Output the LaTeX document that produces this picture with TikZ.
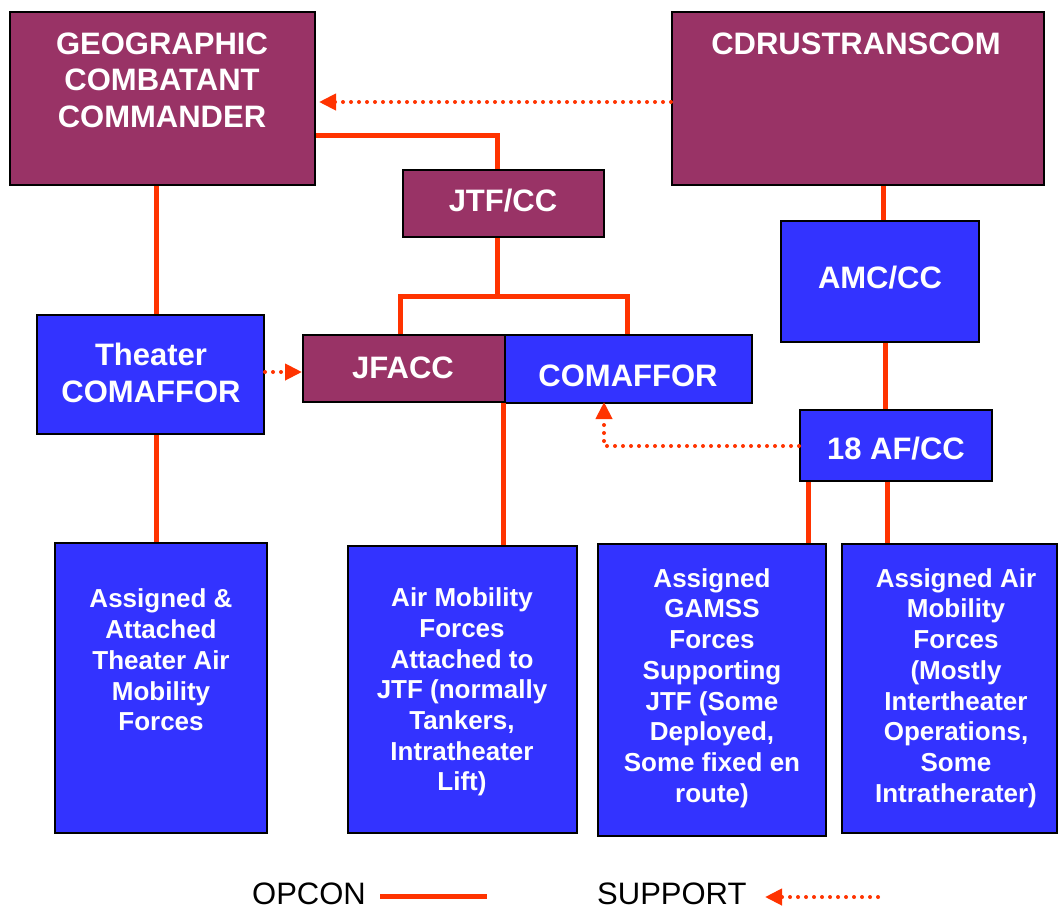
\documentclass[tikz,border=0pt]{standalone}
\usepackage{fontspec}
\setmainfont{Liberation Sans}
\usetikzlibrary{arrows.meta}
\definecolor{cmaroon}{HTML}{993366}
\definecolor{cblue}{HTML}{3333FF}
\definecolor{cred}{HTML}{FF3300}
\tikzset{
  mbox/.style={draw=black, line width=2pt, fill=cmaroon, inner sep=0pt},
  bbox/.style={draw=black, line width=2pt, fill=cblue, inner sep=0pt},
  bigtxt/.style={text=white, font=\fontsize{31}{36.5}\selectfont\bfseries, align=center, inner sep=0pt},
  smalltxt/.style={text=white, font=\fontsize{26}{30.7}\selectfont\bfseries, align=center, inner sep=0pt},
  legtxt/.style={text=black, font=\fontsize{31}{36}\selectfont, inner sep=0pt},
  opcon/.style={draw=cred, line width=5pt},
  support/.style={draw=cred, line width=4pt, line cap=round, dash pattern=on 0pt off 8pt, -{Triangle[length=17pt,width=16pt]}},
}
\begin{document}
\begin{tikzpicture}[x=1pt,y=-1pt]
\useasboundingbox (0,0) rectangle (1059,911);
\fill[white] (0,0) rectangle (1059,911);

% boxes
\node[mbox, minimum width=305pt, minimum height=173pt] (gcc) at (162.5,98.5) {};
\node[mbox, minimum width=372pt, minimum height=173pt] (cdr) at (858,98.5) {};
\node[mbox, minimum width=201pt, minimum height=67pt] (jtf) at (503.5,203.5) {};
\node[bbox, minimum width=227pt, minimum height=119pt] (tcom) at (150.5,374.5) {};
\node[mbox, minimum width=202pt, minimum height=67pt] (jfacc) at (404,368.5) {};
\node[bbox, minimum width=247pt, minimum height=68pt] (com) at (628.5,369) {};
\node[bbox, minimum width=198pt, minimum height=121pt] (amc) at (880,281.5) {};
\node[bbox, minimum width=192pt, minimum height=71pt] (af) at (896,445.5) {};
\node[bbox, minimum width=212pt, minimum height=290pt] (b1) at (161,688) {};
\node[bbox, minimum width=229pt, minimum height=287pt] (b2) at (462.5,689.5) {};
\node[bbox, minimum width=228pt, minimum height=292pt] (b3) at (712,690) {};
\node[bbox, minimum width=215pt, minimum height=289pt] (b4) at (949.5,688.5) {};

% texts
\node[bigtxt] (gcc-t) at (162,80) {GEOGRAPHIC\\COMBATANT\\COMMANDER};
\node[bigtxt] (cdr-t) at (856,44) {CDRUSTRANSCOM};
\node[bigtxt] (jtf-t) at (503,201) {JTF/CC};
\node[bigtxt] (tcom-t) at (151,373) {Theater\\COMAFFOR};
\node[bigtxt] (jfacc-t) at (403,368) {JFACC};
\node[bigtxt] (com-t) at (628,376) {COMAFFOR};
\node[bigtxt] (amc-t) at (880,278) {AMC/CC};
\node[bigtxt] (af-t) at (896,449) {18 AF/CC};
\node[smalltxt] (b1-t) at (161,660) {Assigned \&\\Attached\\Theater Air\\Mobility\\Forces};
\node[smalltxt] (b2-t) at (462,692) {Air Mobility\\Forces\\Attached to\\JTF (normally\\Tankers,\\Intratheater\\Lift)};
\node[smalltxt] (b3-t) at (712,688) {Assigned\\GAMSS\\Forces\\Supporting\\JTF (Some\\Deployed,\\Some fixed en\\route)};
\node[smalltxt] (b4-t) at (956,688) {Assigned Air\\Mobility\\Forces\\(Mostly\\Intertheater\\Operations,\\Some\\Intratherater)};

% OPCON connectors
\coordinate (c1) at (497,135);
\draw[opcon] (gcc.east |- c1) -- (c1) -- (jtf.north -| c1);
\coordinate (c2) at (497,296);
\coordinate (c3) at (400,296);
\coordinate (c4) at (627,296);
\draw[opcon] (jtf.south -| c2) -- (c2);
\draw[opcon] (jfacc.north -| c3) -- (c3) -- (c4) -- (com.north -| c4);
\coordinate (c5) at (156,250);
\draw[opcon] (gcc.south -| c5) -- (tcom.north -| c5);
\draw[opcon] (tcom.south -| c5) -- (b1.north -| c5);
\coordinate (c6) at (503,470);
\draw[opcon] (jfacc.south -| c6) -- (b2.north -| c6);
\coordinate (c7) at (883,200);
\draw[opcon] (cdr.south -| c7) -- (amc.north -| c7);
\coordinate (c8) at (885,380);
\draw[opcon] (amc.south -| c8) -- (af.north -| c8);
\coordinate (c9) at (808,510);
\coordinate (c10) at (887,510);
\draw[opcon] (af.south -| c9) -- (b3.north -| c9);
\draw[opcon] (af.south -| c10) -- (b4.north -| c10);

% SUPPORT connectors
\coordinate (s1) at (500,102);
\draw[support] (cdr.west |- s1) -- ([xshift=3pt]gcc.east |- s1);
\coordinate (s2) at (280,372);
\draw[support] (tcom.east |- s2) -- (jfacc.west |- s2);
\coordinate (s3) at (604,446);
\draw[support] (af.west |- s3) -- (s3) -- ([yshift=2pt]com.south -| s3);

% legend
\node[legtxt, anchor=west] (leg1) at (252,894) {OPCON};
\coordinate (l1a) at (380,896);
\coordinate (l1b) at (487,896);
\draw[opcon] (l1a) -- (l1b);
\node[legtxt, anchor=west] (leg2) at (597,894) {SUPPORT};
\coordinate (l2a) at (878,897);
\coordinate (l2b) at (765,897);
\draw[support] (l2a) -- (l2b);
\end{tikzpicture}
\end{document}
